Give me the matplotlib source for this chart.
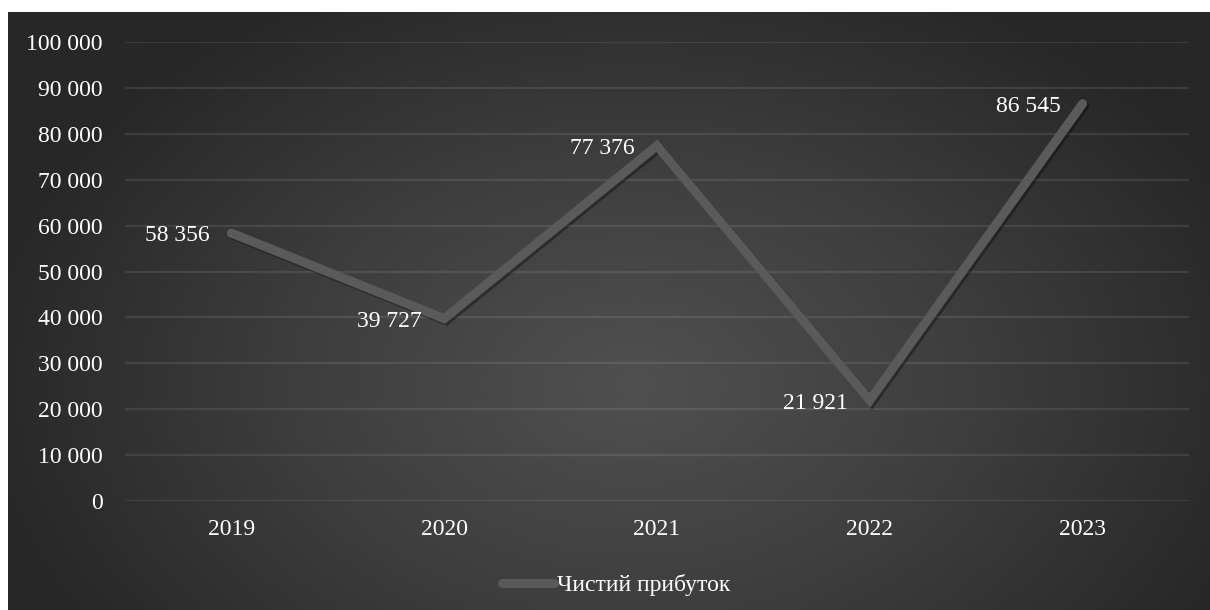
import numpy as np
import matplotlib
matplotlib.use("Agg")
import matplotlib.pyplot as plt
import matplotlib.patheffects as pe
from matplotlib.ticker import FuncFormatter
from matplotlib.colors import LinearSegmentedColormap

years = ["2019", "2020", "2021", "2022", "2023"]
net_profit = [58356, 39727, 77376, 21921, 86545]
series_name = "Чистий прибуток"

plt.rcParams["font.family"] = ["Liberation Serif", "DejaVu Serif"]

W, H, DPI = 1210, 610, 100
fig = plt.figure(figsize=(W / DPI, H / DPI), dpi=DPI, facecolor="white")

# radial dark background
bg = fig.add_axes([8 / W, 0, (W - 8) / W, (H - 12) / H])
bg.set_axis_off()
ny, nx = 300, 600
yy, xx = np.mgrid[0:ny, 0:nx]
cx, cy = nx * 0.52, ny * 0.62
r = np.sqrt(((xx - cx) / (nx * 0.55)) ** 2 + ((yy - cy) / (ny * 0.75)) ** 2)
r = np.clip(r, 0, 1)
cmap = LinearSegmentedColormap.from_list("bg", ["#505050", "#3e3e3e", "#272727"])
bg.imshow(r, cmap=cmap, aspect="auto", extent=[0, 1, 0, 1], origin="upper",
          interpolation="bilinear")
bg.set_xlim(0, 1)
bg.set_ylim(0, 1)

ax = fig.add_axes([125 / W, (H - 501) / H, (1189 - 125) / W, (501 - 42) / H])
ax.patch.set_alpha(0)
x = np.arange(len(years))
line_color = "#5a5a5a"
ax.plot(x, net_profit, color=line_color, lw=6.5, solid_capstyle="round",
        solid_joinstyle="miter", zorder=3,
        path_effects=[pe.SimpleLineShadow(offset=(1.5, -1.5), shadow_color="black", alpha=0.35),
                      pe.Normal()], label=series_name)

fmt = lambda v: f"{int(round(v)):,}".replace(",", " ")
for xi, v in zip(x, net_profit):
    ax.annotate(fmt(v), (xi, v), xytext=(-16, -2), textcoords="offset points",
                ha="right", va="center", color="white", fontsize=17, zorder=4)

ax.set_xlim(-0.5, len(years) - 0.5)
ax.set_ylim(0, 100000)
ax.set_yticks(np.arange(0, 100001, 10000))
ax.yaxis.set_major_formatter(FuncFormatter(lambda v, p: fmt(v)))
ax.set_xticks(x)
ax.set_xticklabels(years)
ax.tick_params(axis="both", length=0, colors="white", labelsize=17)
ax.tick_params(axis="y", pad=16)
ax.tick_params(axis="x", pad=13)
ax.grid(axis="y", color="white", alpha=0.09, lw=1.6)
ax.set_axisbelow(True)
for s in ax.spines.values():
    s.set_visible(False)

leg = ax.legend(loc="center", bbox_to_anchor=(0.4615, -0.1835), frameon=False,
                fontsize=17, labelcolor="white", handlelength=2.2, handletextpad=0.1)
for h in leg.get_lines():
    h.set_linewidth(6.5)
    h.set_path_effects([])

fig.savefig("out.png", dpi=DPI, facecolor="white")
